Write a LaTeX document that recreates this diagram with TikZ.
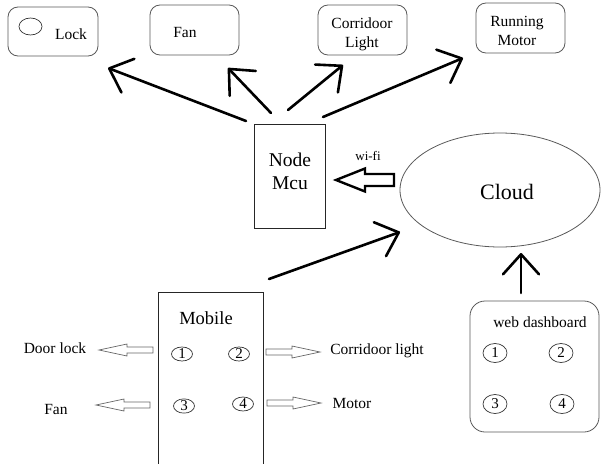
\documentclass[tikz,border=0pt]{standalone}
\usepackage{fontspec}
\setmainfont{Liberation Serif}
\usetikzlibrary{arrows.meta,shapes.geometric}
\begin{document}
\begin{tikzpicture}[x=1pt,y=-1pt,
  rbox/.style={draw=black!65, rounded corners=10pt, line width=0.8pt, inner sep=0pt},
  pbox/.style={draw=black!85, line width=0.8pt, inner sep=0pt},
  oval/.style={ellipse, draw=black!80, line width=0.7pt, inner sep=0pt},
  lbl/.style={inner sep=0pt, font=\fontsize{15.5}{19}\selectfont, align=center},
  num/.style={inner sep=0pt, font=\fontsize{15}{16}\selectfont},
  bigarrow/.style={line width=2.6pt, line cap=round, line join=round,
    -{Straight Barb[length=20pt,width=36pt,line cap=round,line join=round]}},
  hollow/.style={draw=black!60, line width=0.7pt, fill=white},
  harrow/.pic={\draw[hollow] (0,-3) -- (26,-3) -- (26,-6) -- (54,0) -- (26,6) -- (26,3) -- (0,3) -- cycle;},
  wifiarrow/.pic={\draw[line width=2.4pt, line join=miter] (0,-6) -- (29,-6) -- (29,-11.5) -- (58,0) -- (29,11.5) -- (29,6) -- (0,6) -- cycle;}
]
\useasboundingbox (0,0) rectangle (602,463);

% top boxes
\node[rbox, minimum width=90pt, minimum height=49pt] (lock) at (53,31.5) {};
\node[oval, minimum width=23pt, minimum height=17pt] (lockc) at (30.5,26.5) {};
\node[lbl] (locktxt) at (71,34) {Lock};

\node[rbox, minimum width=89pt, minimum height=50pt] (fan) at (194.5,30) {};
\node[lbl] (fantxt) at (185,33) {Fan};

\node[rbox, minimum width=89pt, minimum height=50pt] (corr) at (362.5,30) {};
\node[lbl] (corrtxt) at (362,34) {Corridoor\\Light};

\node[rbox, minimum width=89pt, minimum height=50pt] (motor) at (520.5,28) {};
\node[lbl] (motortxt) at (517,31) {Running\\Motor};

% NodeMcu
\node[pbox, minimum width=71pt, minimum height=104pt] (mcu) at (289.5,176) {};
\node[inner sep=0pt, font=\fontsize{19.5}{23}\selectfont, align=center] (mcutxt) at (290,171) {Node\\Mcu};

% Cloud
\node[ellipse, draw=black!65, line width=0.8pt, minimum width=200pt, minimum height=114pt] (cloud) at (500,190) {};
\node[inner sep=0pt, font=\fontsize{22}{26}\selectfont] (cloudtxt) at (507,192) {Cloud};

\node[inner sep=0pt, font=\fontsize{13}{14}\selectfont] (wifi) at (368,156) {wi-fi};
\pic[rotate=180] (wifiarr) at (394,180) {wifiarrow};

% arrows from NodeMcu
\coordinate (s1) at (246,121); \coordinate (e1) at (108,68);
\coordinate (s2) at (271,113); \coordinate (e2) at (228,68);
\coordinate (s3) at (288,110); \coordinate (e3) at (343,65);
\coordinate (s4) at (323,117); \coordinate (e4) at (463,58);
\draw[bigarrow] (s1) -- (e1);
\draw[bigarrow] (s2) -- (e2);
\draw[bigarrow] (s3) -- (e3);
\draw[bigarrow] (s4) -- (e4);

% Mobile
\node[pbox, anchor=north west, minimum width=105pt, minimum height=185pt] (mobile) at (158,292) {};
\node[inner sep=0pt, font=\fontsize{18.5}{22}\selectfont] (mobiletxt) at (206,318) {Mobile};
\node[oval, minimum width=21pt, minimum height=13pt, num] (m1) at (182,354) {1};
\node[oval, minimum width=21pt, minimum height=13pt, num] (m2) at (239,354) {2};
\node[oval, minimum width=21pt, minimum height=13pt, num] (m3) at (184,406) {3};
\node[oval, minimum width=21pt, minimum height=13pt, num] (m4) at (243,404) {4};

\coordinate (ms) at (269,279); \coordinate (me) at (400,232);
\draw[bigarrow] (ms) -- (me);

% hollow arrows
\pic[rotate=180] (ha1) at (153,350) {harrow};
\pic[rotate=180] (ha2) at (150,405) {harrow};
\pic (ha3) at (266,352) {harrow};
\pic (ha4) at (267,403) {harrow};

\node[lbl] (doorlock) at (55,348) {Door lock};
\node[lbl] (fan2) at (56,409) {Fan};
\node[lbl] (corrlight) at (377,351) {Corridoor light};
\node[lbl] (motor2) at (352,403) {Motor};

% web dashboard
\node[rbox, rounded corners=15pt, minimum width=129pt, minimum height=131pt] (dash) at (534.5,366.5) {};
\node[lbl] (dashtxt) at (540,322) {web dashboard};
\node[oval, minimum width=24pt, minimum height=19pt, num] (d1) at (495,353) {1};
\node[oval, minimum width=24pt, minimum height=19pt, num] (d2) at (561,353) {2};
\node[oval, minimum width=24pt, minimum height=19pt, num] (d3) at (495,404) {3};
\node[oval, minimum width=24pt, minimum height=19pt, num] (d4) at (562,404) {4};

\coordinate (ds) at (521,293); \coordinate (de) at (521,253);
\draw[bigarrow] (ds) -- (de);
\end{tikzpicture}
\end{document}
